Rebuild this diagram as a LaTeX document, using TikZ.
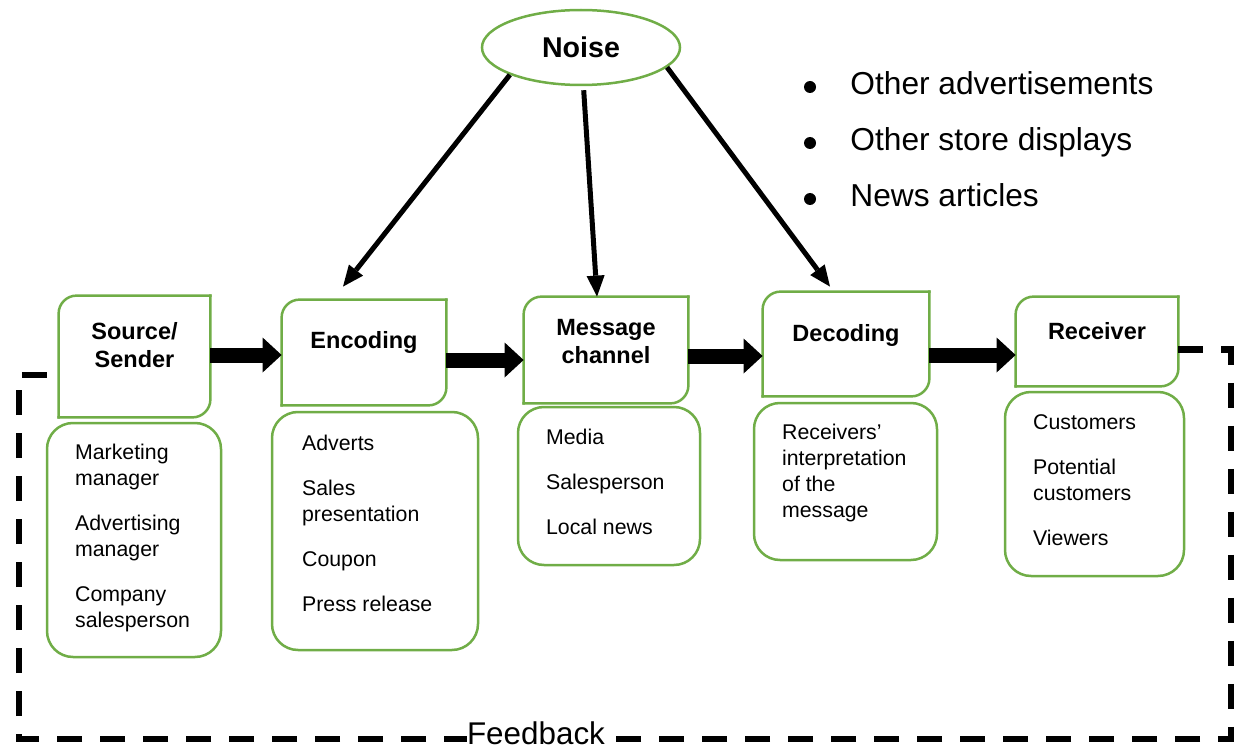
\documentclass[tikz,border=0pt]{standalone}
\usepackage{fontspec}
\setmainfont{Liberation Sans}
\usepackage{tikz}
\usetikzlibrary{calc, positioning, arrows.meta, shapes.geometric}
\definecolor{leafgreen}{HTML}{70AD47}

\begin{document}
\begin{tikzpicture}[x=1pt, y=-1pt, >=latex, thick,
		stageline/.style={draw=leafgreen, line width=2.5pt, line cap=rect, rounded corners=18pt},
		stagetitle/.style={align=center, inner sep=0pt, font=\fontsize{23.5}{28}\selectfont\bfseries},
		listbox/.style={draw=leafgreen, line width=2.5pt, rounded corners=26pt},
		listtext/.style={anchor=north west, inner sep=0pt, align=left, font=\fontsize{21.3}{26}\selectfont},
		bulletdot/.style={circle, fill, inner sep=0pt, minimum size=12pt},
		flow/.style={-{Triangle[length=19pt, width=35pt, line width=0pt]}, line width=15pt},
		noisy/.style={-{Triangle[length=21pt, width=18pt, line width=0pt]}, line width=5pt},
		feedback/.style={line width=6.5pt, dash pattern=on 25pt off 18pt}]
		\useasboundingbox (0,0) rectangle (1235,749);

		\node[ellipse, draw=leafgreen, line width=2.5pt, minimum width=198pt, minimum height=75pt, font=\fontsize{28.6}{30}\selectfont\bfseries] (noise) at (581,47.5) {Noise};

		\foreach \t [count=\i] in {Other advertisements, Other store displays, News articles} {
			\node[bulletdot] (dot\i) at (810,31+56*\i) {};
			\node[anchor=base west, inner sep=0pt, font=\fontsize{31.7}{34}\selectfont] (note\i) at (850,39+56*\i) {\t};
		}

		\node[minimum width=151pt, minimum height=121pt] (src) at (134.5,356.5) {};
		\node[minimum width=164pt, minimum height=105pt] (enc) at (364,352.5) {};
		\node[minimum width=164pt, minimum height=106pt] (msg) at (606,350) {};
		\node[minimum width=166pt, minimum height=104pt] (dec) at (846,344) {};
		\node[minimum width=162pt, minimum height=89pt] (rcv) at (1097,341.5) {};

		% top-left and bottom-right corners rounded, the other two square
		\foreach \n in {src,enc,msg,dec,rcv} {
			\draw[stageline] (\n.south west) -- (\n.north west) -- (\n.north east);
			\draw[stageline] (\n.north east) -- (\n.south east) -- (\n.south west);
		}

		\node[stagetitle] (srctitle) at ($(src)+(0,-11)$) {Source/\\Sender};
		\node[stagetitle] (enctitle) at ($(enc)+(0,-10)$) {Encoding};
		\node[stagetitle] (msgtitle) at ($(msg)+(0,-8)$) {Message\\channel};
		\node[stagetitle] (dectitle) at ($(dec)+(0,-9)$) {Decoding};
		\node[stagetitle] (rcvtitle) at ($(rcv)+(0,-10)$) {Receiver};

		\node[listbox, minimum width=174pt, minimum height=234pt] (srclist) at (134,540) {};
		\node[listbox, minimum width=206pt, minimum height=238pt] (enclist) at (375,531) {};
		\node[listbox, minimum width=182pt, minimum height=158pt] (msglist) at (609,486) {};
		\node[listbox, minimum width=183pt, minimum height=157pt] (declist) at (845.5,481.5) {};
		\node[listbox, minimum width=179pt, minimum height=184pt] (rcvlist) at (1094.5,484) {};

		\node[listtext] (srcitems) at ($(srclist.north west)+(29,22)$) {Marketing\\manager\\[19pt]Advertising\\manager\\[19pt]Company\\salesperson};
		\node[listtext] (encitems) at ($(enclist.north west)+(31,24)$) {Adverts\\[19pt]Sales\\presentation\\[19pt]Coupon\\[19pt]Press release};
		\node[listtext] (msgitems) at ($(msglist.north west)+(29,23)$) {Media\\[19pt]Salesperson\\[19pt]Local news};
		\node[listtext] (decitems) at ($(declist.north west)+(29,22)$) {Receivers’\\interpretation\\of the\\message};
		\node[listtext] (rcvitems) at ($(rcvlist.north west)+(29,23)$) {Customers\\[19pt]Potential\\customers\\[19pt]Viewers};

		\draw[flow] ([yshift=1.5pt]src.east) -- ([yshift=-2.5pt]enc.west);
		\draw[flow] ([yshift=-7.5pt]enc.east) -- ([yshift=-10pt]msg.west);
		\draw[flow] ([yshift=-6pt]msg.east) -- ([yshift=-12pt]dec.west);
		\draw[flow] ([yshift=-11pt]dec.east) -- ([yshift=-13.5pt]rcv.west);

		\draw[noisy] (noise.-159) -- ($(enc.north)+(-21,-13)$);
		\draw[noisy] ($(noise.-86)+(0,4)$) -- ($(msg.north)+(-9,0)$);
		\draw[noisy] (noise.-13) -- ($(dec.north)+(-16,-5)$);

		\coordinate (fbright) at (1231,739);
		\coordinate (fbleft) at (19,375);
		\draw[feedback] ([yshift=-8pt]rcv.east) -| (fbright) -| (fbleft) -- ([yshift=-18.5pt]src.west);
		\node[font=\fontsize{31.4}{34}\selectfont, inner sep=0pt, fill=white] (fb) at (536,733) {Feedback};

	\end{tikzpicture}
\end{document}
